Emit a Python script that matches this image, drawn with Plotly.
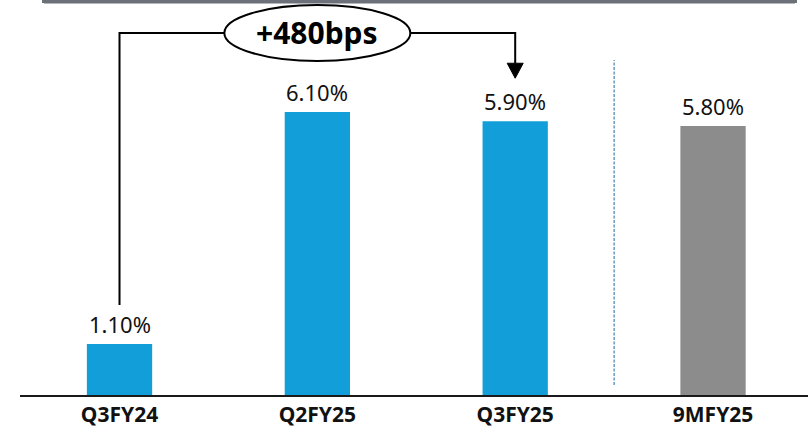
import plotly.graph_objects as go

# Periods and values (%)
categories = ["Q3FY24", "Q2FY25", "Q3FY25", "9MFY25"]
values = [1.10, 6.10, 5.90, 5.80]
value_labels = ["1.10%", "6.10%", "5.90%", "5.80%"]
bar_colors = ["#129ed8", "#129ed8", "#129ed8", "#8c8c8c"]
change_label = "+480bps"

W, H = 808, 433
M_L, M_R, M_T, M_B = 20, 0, 0, 38
X_RANGE = [-0.503, 3.48]
Y_RANGE = [0, 8.513]

plot_w = W - M_L - M_R
plot_h = H - M_T - M_B
px_x = (X_RANGE[1] - X_RANGE[0]) / plot_w   # data units per pixel (x)
px_y = (Y_RANGE[1] - Y_RANGE[0]) / plot_h   # data units per pixel (y)

fig = go.Figure()
fig.add_trace(go.Bar(
    x=list(range(len(categories))),
    y=values,
    marker=dict(color=bar_colors, line=dict(width=0)),
    width=0.33,
    hoverinfo="skip",
))

font_main = "Noto Sans"

# value labels above each bar
annotations = []
for i, (v, lab) in enumerate(zip(values, value_labels)):
    annotations.append(dict(
        x=i, y=v, xref="x", yref="y", text=lab, showarrow=False,
        yanchor="bottom", yshift=3,
        font=dict(family=font_main, size=22, color="#111111"),
    ))

# bracket from first period to current quarter with change bubble
bracket_y = Y_RANGE[1] - 33 * px_y
ell_rx = 93 * px_x
ell_ry = 28 * px_y
ell_cx = 1
left_start = values[0] + 39 * px_y
arrow_tip = values[2] + 43 * px_y
arrow_head_len = 15 * px_y
arrow_half_w = 8 * px_x

shapes = []
shapes.append(dict(
    type="path", xref="x", yref="y", layer="above",
    path=f"M 0,{left_start} L 0,{bracket_y} L {ell_cx - ell_rx},{bracket_y}",
    line=dict(color="#000000", width=2),
))
shapes.append(dict(
    type="path", xref="x", yref="y", layer="above",
    path=(f"M {ell_cx + ell_rx},{bracket_y} L 2,{bracket_y} "
          f"L 2,{arrow_tip + arrow_head_len}"),
    line=dict(color="#000000", width=2),
))
shapes.append(dict(
    type="path", xref="x", yref="y", layer="above",
    path=(f"M {2 - arrow_half_w},{arrow_tip + arrow_head_len} "
          f"L {2 + arrow_half_w},{arrow_tip + arrow_head_len} "
          f"L 2,{arrow_tip} Z"),
    fillcolor="#000000", line=dict(color="#000000", width=1),
))
shapes.append(dict(
    type="circle", xref="x", yref="y", layer="above",
    x0=ell_cx - ell_rx, x1=ell_cx + ell_rx,
    y0=bracket_y - ell_ry, y1=bracket_y + ell_ry,
    fillcolor="#ffffff", line=dict(color="#000000", width=2),
))
annotations.append(dict(
    x=ell_cx, y=bracket_y, xref="x", yref="y", text=f"<b>{change_label}</b>",
    showarrow=False, yshift=1,
    font=dict(family=font_main, size=30, color="#000000"),
))

# dashed separator between quarterly and nine-month figures
shapes.append(dict(
    type="line", xref="x", yref="y", layer="above",
    x0=2.5, x1=2.5, y0=10 * px_y, y1=Y_RANGE[1] - 60 * px_y,
    line=dict(color="#1f6a98", width=1, dash="3px,1.5px"),
))

# header band edge along the top
shapes.append(dict(
    type="rect", xref="paper", yref="paper", layer="above",
    x0=(42 - M_L) / plot_w, x1=(797 - M_L) / plot_w,
    y0=1 - 3 / plot_h, y1=1,
    fillcolor="#6b7079", line=dict(width=0),
))
shapes.append(dict(
    type="rect", xref="paper", yref="paper", layer="above",
    x0=(44 - M_L) / plot_w, x1=(795 - M_L) / plot_w,
    y0=1 - 4 / plot_h, y1=1 - 3 / plot_h,
    fillcolor="#b4b7bc", line=dict(width=0),
))

fig.update_layout(
    width=W, height=H,
    margin=dict(l=M_L, r=M_R, t=M_T, b=M_B, pad=0),
    paper_bgcolor="#ffffff", plot_bgcolor="#ffffff",
    showlegend=False,
    shapes=shapes,
    annotations=annotations,
    xaxis=dict(
        range=X_RANGE,
        tickmode="array",
        tickvals=list(range(len(categories))),
        ticktext=[f"<b>{c}</b>" for c in categories],
        tickfont=dict(family=font_main, size=21, color="#111111"),
        showgrid=False, zeroline=False,
        showline=True, linecolor="#1a1a1a", linewidth=2,
        ticks="",
    ),
    yaxis=dict(
        range=Y_RANGE, visible=False, showgrid=False, zeroline=False,
    ),
)

fig.write_html("out.html")
